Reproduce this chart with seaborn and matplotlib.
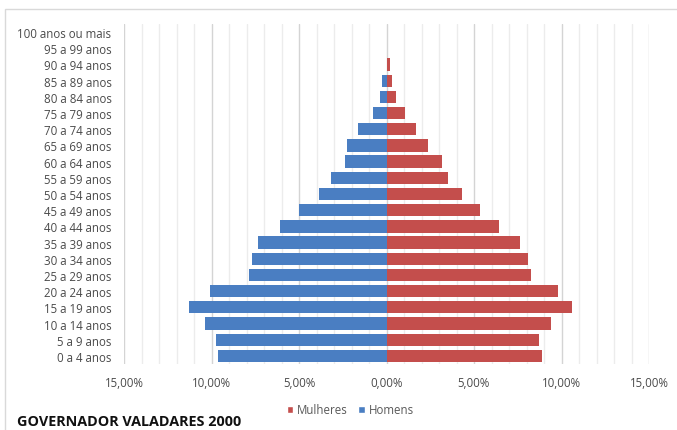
import matplotlib
matplotlib.use("Agg")
import matplotlib.pyplot as plt
from matplotlib.ticker import FuncFormatter, MultipleLocator
from matplotlib.patches import Patch, Rectangle
import seaborn as sns
import pandas as pd

# Age groups, top to bottom
age_groups = [
    "100 anos ou mais", "95 a 99 anos", "90 a 94 anos", "85 a 89 anos",
    "80 a 84 anos", "75 a 79 anos", "70 a 74 anos", "65 a 69 anos",
    "60 a 64 anos", "55 a 59 anos", "50 a 54 anos", "45 a 49 anos",
    "40 a 44 anos", "35 a 39 anos", "30 a 34 anos", "25 a 29 anos",
    "20 a 24 anos", "15 a 19 anos", "10 a 14 anos", "5 a 9 anos",
    "0 a 4 anos",
]

# Share of the population (%) per age group
homens = [0.0, 0.0, 0.0, 0.26, 0.39, 0.78, 1.64, 2.27, 2.39, 3.17, 3.84,
          4.99, 6.07, 7.32, 7.68, 7.83, 10.10, 11.27, 10.39, 9.74, 9.61]
mulheres = [0.0, 0.0, 0.20, 0.32, 0.57, 1.06, 1.66, 2.37, 3.15, 3.52, 4.32,
            5.33, 6.44, 7.60, 8.06, 8.27, 9.82, 10.62, 9.40, 8.69, 8.86]

series_names = ["Mulheres", "Homens"]
x_ticks = [-15, -10, -5, 0, 5, 10, 15]
title = "GOVERNADOR VALADARES 2000"

colors = {"Homens": "#4A7EC2", "Mulheres": "#C44E4C"}

df = pd.concat([
    pd.DataFrame({"faixa": age_groups, "sexo": "Homens",
                  "valor": [-v for v in homens]}),
    pd.DataFrame({"faixa": age_groups, "sexo": "Mulheres",
                  "valor": mulheres}),
], ignore_index=True)

sns.set_theme(style="white")
plt.rcParams["font.family"] = ["Open Sans", "DejaVu Sans"]

fig = plt.figure(figsize=(6.77, 4.31), dpi=100)
W, H = 677, 431
ax = fig.add_axes([124 / W, 1 - 365 / H, (649 - 124) / W, (365 - 25) / H])

# chart frame
fig.patches.append(Rectangle((5 / W, -0.1), 1.2, (H - 10) / H + 0.1,
                             transform=fig.transFigure, fill=False,
                             edgecolor="#d9d9d9", linewidth=1.0, zorder=0))

sns.barplot(data=df, y="faixa", x="valor", hue="sexo", order=age_groups,
            hue_order=["Homens", "Mulheres"], palette=colors, dodge=False,
            saturation=1, width=0.76, orient="h", ax=ax, legend=False,
            zorder=3, linewidth=0)

ax.set_xlim(-15, 15)
ax.set_ylim(len(age_groups) - 0.5, -0.5)
ax.set_xticks(x_ticks)
ax.xaxis.set_minor_locator(MultipleLocator(1))
ax.xaxis.set_major_formatter(
    FuncFormatter(lambda v, p: f"{abs(v):.2f}%".replace(".", ",")))
ax.grid(axis="x", which="major", color="#d4d4d4", linewidth=1.0, zorder=0)
ax.grid(axis="x", which="minor", color="#ececec", linewidth=1.0, zorder=0)
ax.grid(axis="y", visible=False)
ax.set_axisbelow(True)
for s in ax.spines.values():
    s.set_visible(False)
ax.set_xlabel("")
ax.set_ylabel("")
ax.tick_params(axis="both", which="both", length=0, colors="#4a4a4a",
               labelsize=8.3)
ax.tick_params(axis="y", pad=9)
ax.tick_params(axis="x", pad=9)

handles = [Patch(facecolor=colors[n], label=n) for n in series_names]
fig.legend(handles=handles, loc="center", bbox_to_anchor=(350 / W, 1 - 411 / H),
           ncol=2, frameon=False, fontsize=8.3, handlelength=0.6,
           handleheight=0.6, handletextpad=0.3, columnspacing=0.9,
           labelcolor="#595959")

fig.text(17 / W, 1 - 422 / H, title, ha="left", va="center",
         fontsize=10.4, fontweight="bold", color="#111111")

fig.savefig("out.png", dpi=100)
